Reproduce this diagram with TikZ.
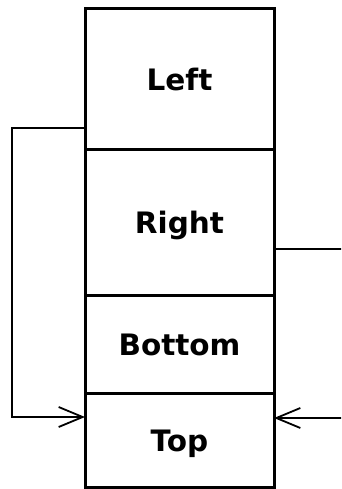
\documentclass[tikz,border=0pt]{standalone}
\usepackage{fontspec}
\setmainfont{DejaVu Sans}
\usetikzlibrary{arrows.meta}
\begin{document}
\begin{tikzpicture}[x=1pt,y=-1pt,
  part/.style={draw, line width=3pt, rectangle, minimum width=189pt,
    inner sep=0pt, outer sep=0pt, text height=22pt, text depth=0pt,
    font=\fontsize{29.5}{34}\selectfont\bfseries},
  link/.style={line width=2pt},
  openarrow/.style={-{Straight Barb[length=24pt,width=20pt,line width=1.8pt]}}]
\useasboundingbox (0,0) rectangle (341,489);
\clip (0,0) rectangle (341,489);
\node[part, minimum height=141pt] (left) at (179.5,79.5) {Left};
\node[part, minimum height=145pt] (right) at (179.5,222.5) {Right};
\node[part, minimum height=98pt] (bottom) at (179.5,344) {Bottom};
\node[part, minimum height=94pt] (top) at (179.5,440) {Top};
\coordinate (lout) at (left.west |- 0,128);
\coordinate (lbend) at (12,128);
\coordinate (lin) at (top.west |- 0,417);
\draw[link, openarrow] (lout) -- (lbend) |- (lin);
\coordinate (rout) at (right.east |- 0,249);
\coordinate (rbend) at (345,249);
\coordinate (rin) at (top.east |- 0,418);
\draw[link, openarrow] (rout) -- (rbend) |- (rin);
\end{tikzpicture}
\end{document}
